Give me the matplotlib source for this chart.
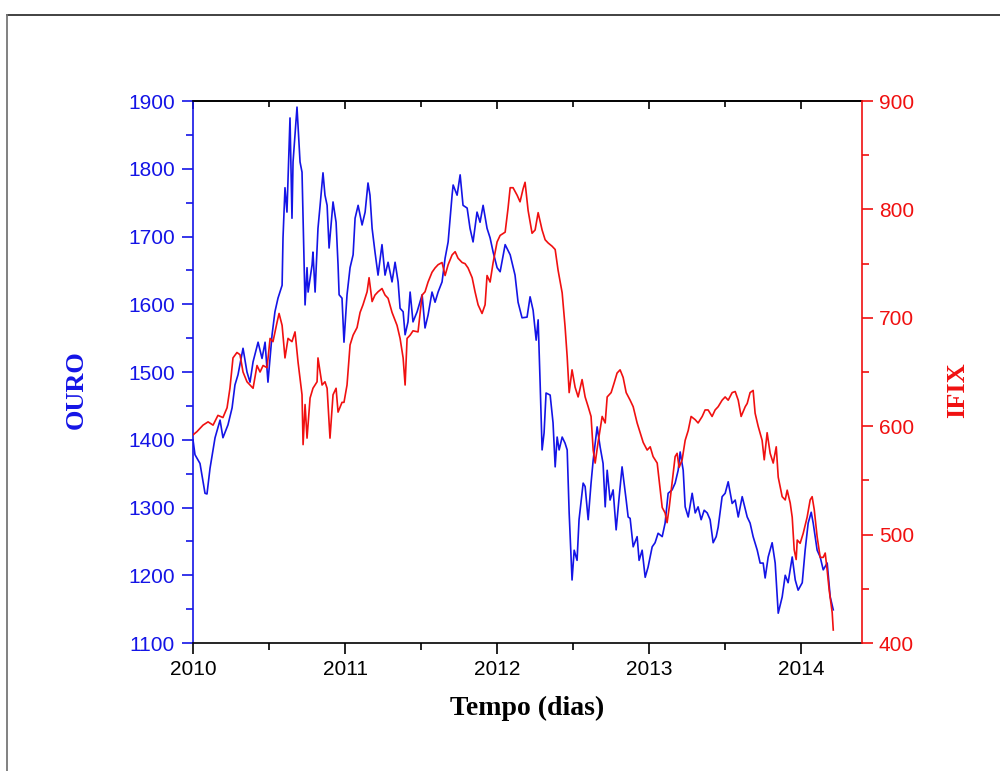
import numpy as np
import matplotlib
matplotlib.use("Agg")
import matplotlib.pyplot as plt
from matplotlib.lines import Line2D
from matplotlib.ticker import MultipleLocator

# time as years after 2010
gold_t = [0.000, 0.013, 0.046, 0.079, 0.092, 0.112, 0.145, 0.178, 0.197, 0.230,
          0.257, 0.276, 0.296, 0.329, 0.355, 0.375, 0.395, 0.428, 0.454, 0.474,
          0.493, 0.520, 0.539, 0.559, 0.586, 0.592, 0.605, 0.618, 0.638, 0.651,
          0.658, 0.684, 0.704, 0.717, 0.737, 0.750, 0.757, 0.783, 0.789, 0.803,
          0.822, 0.836, 0.855, 0.868, 0.882, 0.895, 0.921, 0.941, 0.954, 0.961,
          0.980, 0.993, 1.013, 1.033, 1.053, 1.066, 1.086, 1.112, 1.132, 1.151,
          1.164, 1.178, 1.197, 1.217, 1.243, 1.263, 1.283, 1.309, 1.329, 1.349,
          1.362, 1.382, 1.395, 1.414, 1.428, 1.447, 1.474, 1.507, 1.526, 1.546,
          1.572, 1.592, 1.612, 1.638, 1.658, 1.678, 1.704, 1.711, 1.737, 1.757,
          1.776, 1.803, 1.822, 1.842, 1.868, 1.888, 1.908, 1.934, 1.954, 1.974,
          2.000, 2.020, 2.053, 2.086, 2.118, 2.138, 2.164, 2.197, 2.217, 2.237,
          2.257, 2.270, 2.283, 2.296, 2.309, 2.322, 2.349, 2.368, 2.382, 2.395,
          2.408, 2.428, 2.447, 2.461, 2.474, 2.493, 2.507, 2.526, 2.539, 2.566,
          2.579, 2.599, 2.618, 2.632, 2.658, 2.678, 2.697, 2.711, 2.724, 2.743,
          2.763, 2.783, 2.803, 2.822, 2.849, 2.862, 2.875, 2.895, 2.921, 2.934,
          2.954, 2.974, 2.993, 3.020, 3.039, 3.059, 3.086, 3.105, 3.125, 3.151,
          3.171, 3.191, 3.204, 3.224, 3.237, 3.257, 3.283, 3.303, 3.322, 3.342,
          3.362, 3.382, 3.401, 3.421, 3.441, 3.454, 3.480, 3.500, 3.520, 3.546,
          3.566, 3.586, 3.612, 3.645, 3.664, 3.684, 3.711, 3.730, 3.750, 3.763,
          3.783, 3.809, 3.829, 3.849, 3.875, 3.895, 3.914, 3.941, 3.961, 3.980,
          4.007, 4.026, 4.046, 4.066, 4.079, 4.105, 4.125, 4.145, 4.171, 4.191,
          4.211]
gold_v = [1400, 1378, 1365, 1321, 1320, 1358, 1403, 1429, 1403, 1422,
          1447, 1481, 1496, 1535, 1500, 1485, 1515, 1544, 1520, 1544,
          1485, 1555, 1589, 1609, 1628, 1698, 1772, 1736, 1875, 1727,
          1810, 1891, 1810, 1795, 1599, 1654, 1618, 1658, 1677, 1618,
          1712, 1746, 1794, 1761, 1746, 1683, 1751, 1721, 1658, 1614,
          1609, 1544, 1614, 1654, 1673, 1727, 1746, 1717, 1736, 1779,
          1761, 1712, 1677, 1643, 1688, 1643, 1662, 1633, 1662, 1633,
          1594, 1589, 1555, 1574, 1618, 1574, 1589, 1614, 1565, 1584,
          1618, 1603, 1618, 1633, 1668, 1692, 1761, 1776, 1761, 1791,
          1746, 1742, 1712, 1692, 1736, 1721, 1746, 1712, 1698, 1677,
          1654, 1648, 1688, 1673, 1643, 1603, 1580, 1581, 1611, 1591,
          1547, 1577, 1484, 1385, 1410, 1469, 1466, 1425, 1360, 1404,
          1385, 1404, 1395, 1385, 1292, 1193, 1237, 1222, 1282, 1336,
          1331, 1282, 1336, 1370, 1419, 1389, 1365, 1301, 1355, 1311,
          1326, 1267, 1316, 1360, 1311, 1286, 1284, 1242, 1257, 1222,
          1237, 1197, 1212, 1242, 1248, 1262, 1257, 1277, 1321, 1326,
          1336, 1355, 1382, 1355, 1301, 1286, 1321, 1292, 1301, 1282,
          1296, 1292, 1282, 1248, 1257, 1271, 1316, 1321, 1338, 1306,
          1311, 1286, 1316, 1286, 1277, 1257, 1237, 1218, 1218, 1196,
          1227, 1248, 1218, 1144, 1168, 1200, 1189, 1227, 1193, 1178,
          1189, 1237, 1277, 1293, 1277, 1237, 1227, 1208, 1218, 1168,
          1149]

ifix_t = [0.000, 0.026, 0.066, 0.099, 0.132, 0.164, 0.197, 0.224, 0.243, 0.263,
          0.289, 0.309, 0.329, 0.355, 0.375, 0.395, 0.421, 0.441, 0.461, 0.487,
          0.507, 0.526, 0.553, 0.566, 0.586, 0.605, 0.625, 0.651, 0.671, 0.691,
          0.717, 0.724, 0.737, 0.750, 0.770, 0.789, 0.816, 0.822, 0.849, 0.868,
          0.882, 0.901, 0.921, 0.941, 0.954, 0.980, 0.993, 1.013, 1.033, 1.053,
          1.079, 1.099, 1.118, 1.145, 1.158, 1.178, 1.197, 1.217, 1.243, 1.263,
          1.283, 1.309, 1.342, 1.362, 1.382, 1.395, 1.408, 1.428, 1.447, 1.480,
          1.507, 1.526, 1.546, 1.572, 1.592, 1.612, 1.638, 1.658, 1.678, 1.704,
          1.724, 1.743, 1.770, 1.789, 1.809, 1.836, 1.855, 1.875, 1.901, 1.921,
          1.934, 1.954, 1.974, 2.000, 2.020, 2.053, 2.072, 2.086, 2.105, 2.132,
          2.151, 2.171, 2.184, 2.204, 2.230, 2.250, 2.270, 2.296, 2.316, 2.336,
          2.362, 2.382, 2.401, 2.428, 2.447, 2.461, 2.474, 2.493, 2.513, 2.533,
          2.559, 2.579, 2.599, 2.618, 2.632, 2.645, 2.664, 2.691, 2.711, 2.724,
          2.750, 2.770, 2.789, 2.809, 2.829, 2.849, 2.875, 2.895, 2.921, 2.941,
          2.961, 2.987, 3.007, 3.026, 3.053, 3.066, 3.086, 3.105, 3.118, 3.132,
          3.151, 3.171, 3.184, 3.197, 3.217, 3.237, 3.257, 3.276, 3.303, 3.322,
          3.349, 3.368, 3.388, 3.414, 3.434, 3.454, 3.480, 3.500, 3.520, 3.546,
          3.566, 3.586, 3.605, 3.632, 3.645, 3.664, 3.684, 3.697, 3.717, 3.743,
          3.757, 3.776, 3.796, 3.816, 3.836, 3.849, 3.875, 3.895, 3.908, 3.928,
          3.941, 3.954, 3.967, 3.974, 3.993, 4.013, 4.039, 4.059, 4.072, 4.086,
          4.105, 4.125, 4.145, 4.158, 4.171, 4.184, 4.204, 4.211]
ifix_v = [592, 595, 601, 604, 601, 610, 608, 617, 635, 663,
          668, 666, 650, 641, 638, 635, 656, 650, 656, 654,
          681, 678, 696, 704, 693, 663, 681, 678, 687, 659,
          629, 583, 620, 589, 626, 635, 641, 663, 638, 641,
          635, 589, 629, 635, 613, 622, 622, 638, 675, 684,
          691, 705, 712, 724, 737, 715, 721, 724, 727, 721,
          718, 705, 693, 681, 663, 638, 681, 684, 688, 687,
          721, 724, 733, 742, 746, 749, 751, 739, 749, 758,
          761, 755, 751, 750, 746, 737, 724, 712, 704, 712,
          739, 733, 751, 770, 776, 779, 801, 820, 820, 813,
          807, 819, 825, 799, 778, 781, 797, 781, 772, 769,
          766, 763, 744, 723, 692, 664, 631, 652, 636, 627,
          643, 627, 618, 609, 578, 566, 585, 609, 603, 627,
          631, 640, 649, 652, 645, 631, 624, 618, 603, 594,
          585, 578, 581, 572, 566, 550, 525, 520, 511, 525,
          548, 572, 575, 562, 569, 587, 596, 609, 606, 603,
          609, 615, 615, 609, 615, 618, 624, 627, 624, 631,
          632, 624, 609, 618, 621, 631, 633, 612, 600, 587,
          569, 594, 575, 566, 581, 553, 535, 532, 541, 529,
          516, 486, 477, 495, 492, 501, 516, 532, 535, 523,
          498, 479, 479, 483, 467, 449, 428, 412]

year_ticks = [2010, 2011, 2012, 2013, 2014]

BLUE = "#1414e6"
RED = "#f01010"
tick_font = "Liberation Sans"
label_font = "Liberation Serif"

fig = plt.figure(figsize=(10, 7.71), dpi=100)
ax = fig.add_axes([0.193, 0.166, 0.669, 0.703])
ax2 = ax.twinx()

ax.plot(2010 + np.array(gold_t), gold_v, color=BLUE, lw=1.2)
ax2.plot(2010 + np.array(ifix_t), ifix_v, color=RED, lw=1.2)

ax.set_xlim(2010, 2014.4)
ax.set_ylim(1100, 1900)
ax2.set_ylim(400, 900)

ax.set_xticks(year_ticks)
ax.set_xticklabels([str(y) for y in year_ticks])
ax.xaxis.set_minor_locator(MultipleLocator(0.5))
ax.yaxis.set_major_locator(MultipleLocator(100))
ax.yaxis.set_minor_locator(MultipleLocator(50))
ax2.yaxis.set_major_locator(MultipleLocator(100))
ax2.yaxis.set_minor_locator(MultipleLocator(50))

ax.tick_params(axis="x", which="major", direction="out", length=8, width=1.2,
               pad=4, labelsize=15, colors="black")
ax.tick_params(axis="x", which="minor", direction="out", length=5, width=1.2)
ax.tick_params(axis="y", which="major", direction="out", length=8, width=1.2,
               pad=5, labelsize=15, colors=BLUE)
ax.tick_params(axis="y", which="minor", direction="out", length=5, width=1.2,
               colors=BLUE)
ax2.tick_params(axis="y", which="major", direction="out", length=8, width=1.2,
                pad=4, labelsize=15, colors=RED)
ax2.tick_params(axis="y", which="minor", direction="out", length=5, width=1.2,
                colors=RED)

for lab in ax.get_xticklabels() + ax.get_yticklabels() + ax2.get_yticklabels():
    lab.set_fontfamily(tick_font)

# top axis: inward ticks, no labels
top = ax.secondary_xaxis("top")
top.set_xticks(year_ticks)
top.xaxis.set_minor_locator(MultipleLocator(0.5))
top.tick_params(which="major", direction="in", length=6, width=1.2, labeltop=False)
top.tick_params(which="minor", direction="in", length=4, width=1.2)
top.spines["top"].set_linewidth(1.2)

ax.spines["left"].set_color(BLUE)
ax.spines["right"].set_visible(False)
ax.spines["top"].set_color("black")
ax.spines["bottom"].set_color("black")
for s in ["left", "top", "bottom"]:
    ax2.spines[s].set_visible(False)
ax2.spines["right"].set_color(RED)
for sp in list(ax.spines.values()) + list(ax2.spines.values()):
    sp.set_linewidth(1.2)

ax.set_xlabel("Tempo (dias)", fontfamily=label_font, fontweight="bold",
              fontsize=20, labelpad=12)
ax.set_ylabel("OURO", fontfamily=label_font, fontweight="bold", fontsize=19,
              color=BLUE)
ax.yaxis.set_label_coords(-0.157, 0.467)
ax2.set_ylabel("IFIX", fontfamily=label_font, fontweight="bold", fontsize=19,
               color=RED, rotation=90)
ax2.yaxis.set_label_coords(1.126, 0.467)

# page frame around the figure
fig.add_artist(Line2D([0.007, 1.0], [1 - 15 / 771, 1 - 15 / 771],
                      transform=fig.transFigure, color="#333333", lw=1.3))
fig.add_artist(Line2D([0.007, 0.007], [0.0, 1 - 15 / 771],
                      transform=fig.transFigure, color="#777777", lw=1.3))

fig.savefig("out.png", dpi=100)
